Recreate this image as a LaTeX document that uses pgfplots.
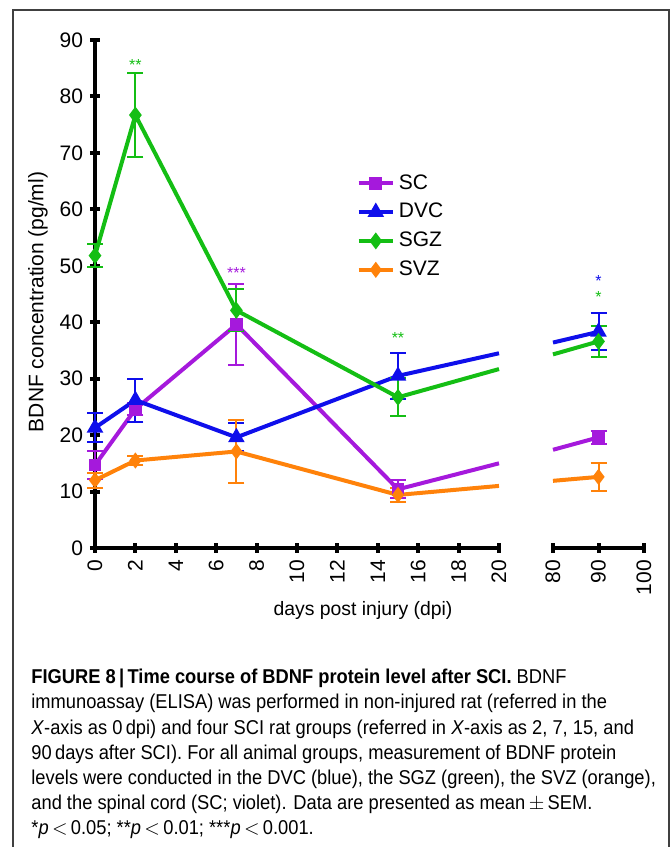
\documentclass[border=0pt]{standalone}
\usepackage{pgfplots}
\pgfplotsset{compat=1.18}
\usepackage{fontspec}
\setmainfont{Liberation Sans}
\newfontfamily\capfont[FakeStretch=0.915]{Liberation Sans}

\definecolor{scviolet}{RGB}{165,25,220}
\definecolor{dvcblue}{RGB}{15,15,235}
\definecolor{sgzgreen}{RGB}{20,190,20}
\definecolor{svzorange}{RGB}{255,130,10}

\pgfplotsset{
  brk/.style={
    scale only axis,
    height=254pt,
    ymin=0, ymax=90,
    clip=false,
    every tick/.style={black, line width=2pt},
    tick align=outside,
    major tick length=5pt,
    /pgf/number format/assume math mode=true,
    tick label style={font=\fontsize{10.5}{12}\selectfont},
    xticklabel style={rotate=90, anchor=east},
    every axis plot/.append style={line width=2pt},
    error bars/error bar style={line width=1pt},
    error bars/error mark options={rotate=90, mark size=4pt, line width=1pt},
  },
  sc/.style={scviolet, mark=square*, mark size=2.2pt, mark options={solid}},
  dvc/.style={dvcblue, mark=triangle*, mark size=2.8pt, mark options={solid}},
  sgz/.style={sgzgreen, mark=diamond*, mark size=2.6pt, mark options={solid}},
  svz/.style={svzorange, mark=diamond*, mark size=2.4pt, mark options={solid}},
}

\begin{document}
\begin{tikzpicture}
\path[use as bounding box] (0,0) rectangle (336pt,423.5pt);
% open frame round figure and caption
\draw[line width=0.7pt, black!75] (6.5pt,0) -- (6.5pt,418.5pt) -- (334.5pt,418.5pt) -- (334.5pt,0);

% left part, 0 to 20 dpi
\begin{axis}[brk,
  at={(47.5pt,149.5pt)}, anchor=south west,
  width=202pt,
  xmin=0, xmax=20,
  axis x line=bottom, axis y line=left,
  axis line style={-, line width=2pt},
  xtick={0,2,...,20}, ytick={0,10,...,90},
  legend style={at={(0.632,0.752)}, anchor=north west, draw=none, fill=none,
    font=\fontsize{10.5}{12}\selectfont, row sep=1.6pt,
    /tikz/every even column/.append style={column sep=1pt}},
  legend cell align=left,
]
\addplot[sc, error bars/.cd, y dir=both, y explicit] coordinates {
  (0,14.7) +- (0,2.4) (2,24.6) +- (0,1.1) (7,39.6) +- (0,7.1) (15,10.4) +- (0,1.6)};
\addlegendentry{SC}
\addplot[dvc, error bars/.cd, y dir=both, y explicit] coordinates {
  (0,21.3) +- (0,2.6) (2,26.2) +- (0,3.8) (7,19.6) +- (0,2.5) (15,30.5) +- (0,4.1)};
\addlegendentry{DVC}
\addplot[sgz, error bars/.cd, y dir=both, y explicit] coordinates {
  (0,51.8) +- (0,2.1) (2,76.7) +- (0,7.4) (7,42.1) +- (0,3.7) (15,26.7) +- (0,3.4)};
\addlegendentry{SGZ}
\addplot[svz, error bars/.cd, y dir=both, y explicit] coordinates {
  (0,12.0) +- (0,1.35) (2,15.5) +- (0,0.85) (7,17.1) +- (0,5.6) (15,9.4) +- (0,1.3)};
\addlegendentry{SVZ}
% lines running on into the axis break
\addplot[scviolet, forget plot] coordinates {(15,10.4) (20,15.0)};
\addplot[dvcblue, forget plot] coordinates {(15,30.5) (20,34.5)};
\addplot[sgzgreen, forget plot] coordinates {(15,26.7) (20,31.7)};
\addplot[svzorange, forget plot] coordinates {(15,9.4) (20,11.0)};

\node[sgzgreen, font=\fontsize{8}{9}\selectfont] at (axis cs:2,85.5) {**};
\node[scviolet, font=\fontsize{8}{9}\selectfont] at (axis cs:7,48.8) {***};
\node[sgzgreen, font=\fontsize{8}{9}\selectfont] at (axis cs:15,37.2) {**};
\end{axis}

% right part, 80 to 100 dpi
\begin{axis}[brk,
  at={(276.5pt,149.5pt)}, anchor=south west,
  width=45.5pt,
  xmin=80, xmax=100,
  axis x line=bottom, axis y line=none,
  axis line style={-, line width=2pt},
  xtick={80,90,100},
]
\addplot[scviolet] coordinates {(80,17.4) (90,19.6)};
\addplot[dvcblue] coordinates {(80,36.4) (90,38.3)};
\addplot[sgzgreen] coordinates {(80,34.3) (90,36.6)};
\addplot[svzorange] coordinates {(80,11.9) (90,12.6)};
\addplot[sc, only marks, error bars/.cd, y dir=both, y explicit] coordinates {(90,19.6) +- (0,1.1)};
\addplot[dvc, only marks, error bars/.cd, y dir=both, y explicit] coordinates {(90,38.3) +- (0,3.3)};
\addplot[sgz, only marks, error bars/.cd, y dir=both, y explicit] coordinates {(90,36.6) +- (0,2.7)};
\addplot[svz, only marks, error bars/.cd, y dir=both, y explicit] coordinates {(90,12.6) +- (0,2.5)};

\node[dvcblue, font=\fontsize{8}{9}\selectfont] at (axis cs:90,47.3) {*};
\node[sgzgreen, font=\fontsize{8}{9}\selectfont] at (axis cs:90,44.4) {*};
\end{axis}

% axis titles
\node[rotate=90, font=\fontsize{10.5}{12}\selectfont] at (19pt,272.5pt) {BDNF concentration (pg/ml)};
\node[font=\fontsize{9.7}{11}\selectfont] at (181.5pt,118.5pt) {days post injury (dpi)};

% caption
\node[anchor=base west, align=left, inner sep=0pt, font=\capfont\fontsize{10}{12.6}\selectfont]
  at (15.5pt,6pt) {%
  {\bfseries FIGURE 8\,|\,Time course of BDNF protein level after SCI.} BDNF\\
  immunoassay (ELISA) was performed in non-injured rat (referred in the\\
  \textit{X}-axis as 0\,dpi) and four SCI rat groups (referred in \textit{X}-axis as 2, 7, 15, and\\
  90\,days after SCI). For all animal groups, measurement of BDNF protein\\
  levels were conducted in the DVC (blue), the SGZ (green), the SVZ (orange),\\
  and the spinal cord (SC; violet). Data are presented as mean\,$\pm$\,SEM.\\
  *\textit{p}\,$<$\,0.05; **\textit{p}\,$<$\,0.01; ***\textit{p}\,$<$\,0.001.};
\end{tikzpicture}
\end{document}
